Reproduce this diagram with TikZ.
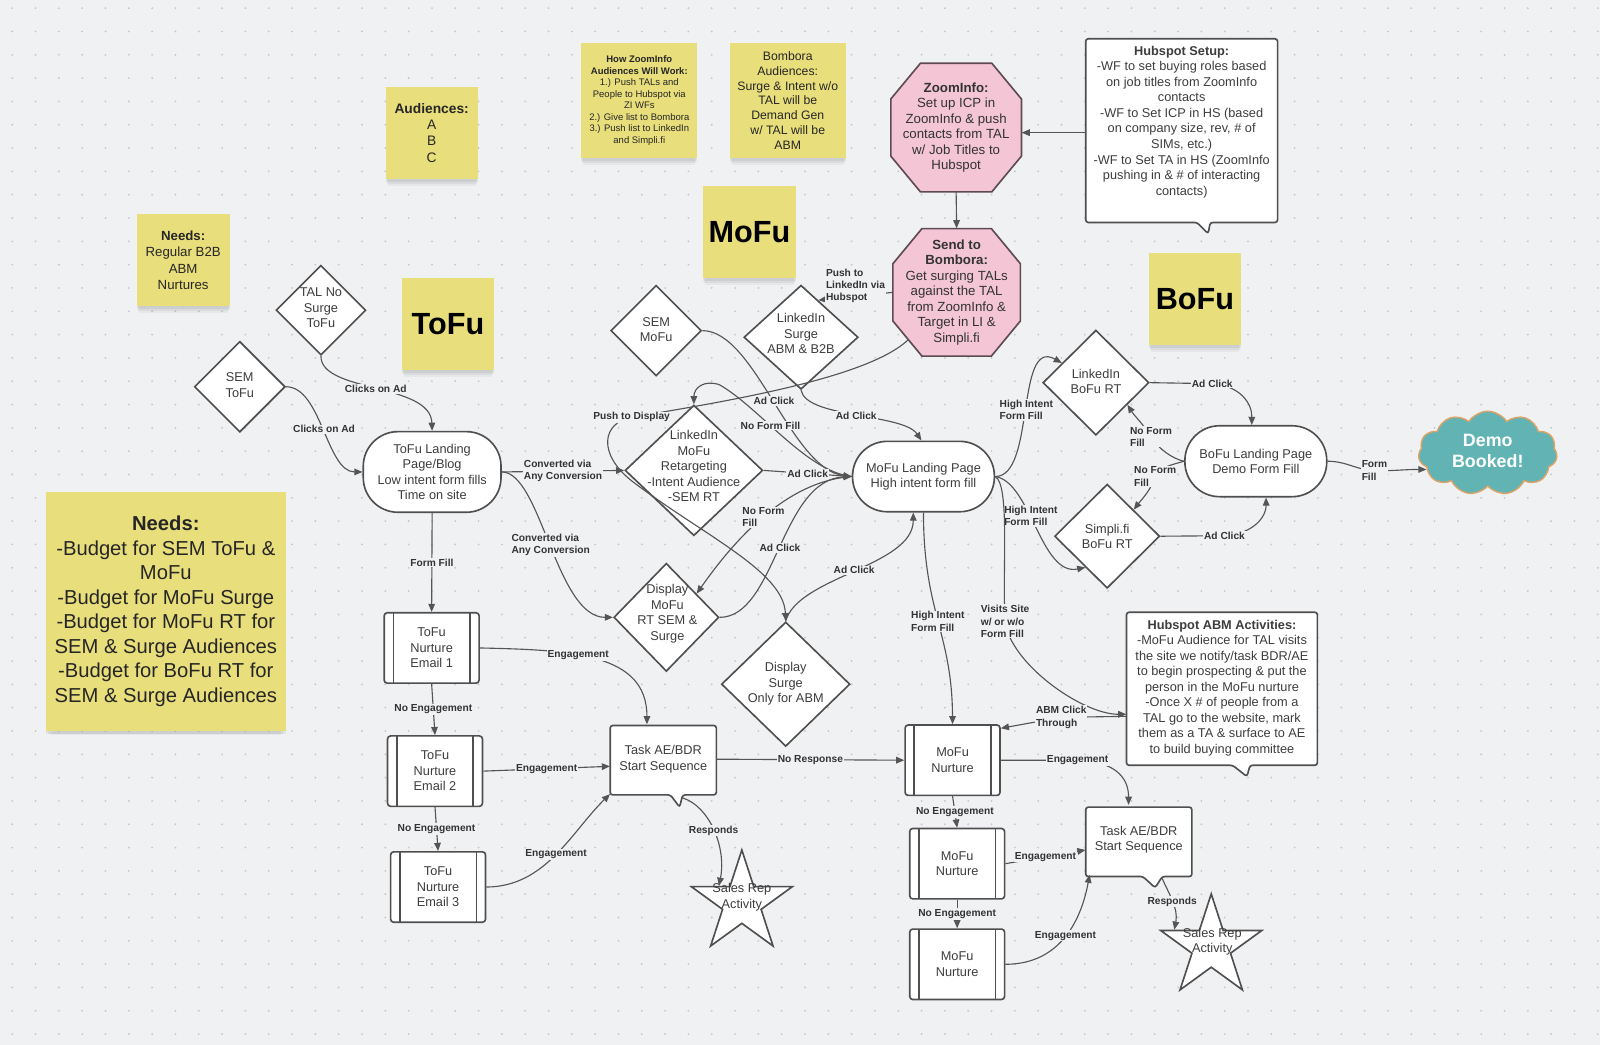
\documentclass[tikz,border=0pt]{standalone}
\usepackage{fontspec}
\setmainfont{Liberation Sans}
\usetikzlibrary{shapes.geometric,shapes.symbols,arrows.meta,calc,shadows}
\definecolor{bgc}{HTML}{F0F1F3}
\definecolor{dotc}{HTML}{C4C7CC}
\definecolor{stk}{HTML}{E8DE7B}
\definecolor{pinkc}{HTML}{F3C5D5}
\definecolor{pinkb}{HTML}{5E4B52}
\definecolor{bord}{HTML}{4F4F4F}
\definecolor{linec}{HTML}{555555}
\definecolor{txtc}{HTML}{3D3D3D}
\definecolor{lblc}{HTML}{333333}
\definecolor{tealc}{HTML}{62B3B3}
\definecolor{orb}{HTML}{DDA46A}
\tikzset{
 body/.style={font=\fontsize{12.5}{15.2}\selectfont, text=txtc, align=center},
 lbl/.style={font=\bfseries\fontsize{10}{12}\selectfont, text=lblc, fill=bgc, inner sep=1pt, align=center},
 conn/.style={draw=linec, line width=1.1pt, -{Triangle[length=8pt,width=6.5pt]}},
 sticky/.style={fill=stk, inner sep=0pt, text=black!85, align=center,
   general shadow={shadow yshift=-9pt, shadow scale=0.96, fill=black, opacity=0.04},
   general shadow={shadow yshift=-6pt, shadow scale=0.98, fill=black, opacity=0.05},
   general shadow={shadow yshift=-3pt, fill=black, opacity=0.06}},
 dia/.style={diamond, draw=bord, fill=white, line width=1.6pt, inner sep=0pt, aspect=1},
 stad/.style={rectangle, rounded corners=34pt, draw=bord, fill=white, line width=1.6pt, body, inner sep=2pt},
 nurt/.style={rectangle, rounded corners=3pt, draw=bord, fill=white, line width=1.6pt, body,
   minimum width=93pt, minimum height=69pt,
   path picture={\draw[draw=bord, line width=1.6pt]
     ([xshift=9pt]path picture bounding box.north west) -- ([xshift=9pt]path picture bounding box.south west)
     ([xshift=-9pt]path picture bounding box.north east) -- ([xshift=-9pt]path picture bounding box.south east);}},
 callout/.style={fill=white, draw=bord, line width=1.6pt, rounded corners=2.5pt},
 octo/.style={fill=pinkc, draw=pinkb, line width=1.6pt},
 starbox/.style={star, star points=5, star point ratio=2.618, minimum size=104pt, inner sep=0pt, draw=bord, fill=white, line width=1.6pt},
 bigsticky/.style={sticky, font=\bfseries\fontsize{30}{36}\selectfont, text=black}
}
\begin{document}
\begin{tikzpicture}[x=1pt,y=-1pt]
\fill[bgc] (0,0) rectangle (1568,1024);
\foreach \i in {0,...,68}{\foreach \j in {0,...,44}{\fill[dotc] (12+\i*22.85, 8+\j*22.85) circle (1pt);}}
\useasboundingbox (0,0) rectangle (1568,1024);

% sticky notes
\node[sticky, minimum width=90pt, minimum height=90pt, font=\fontsize{13.5}{16}\selectfont] (aud) at (423,130) {\textbf{Audiences:}\\A\\B\\C};
\node[sticky, minimum width=114pt, minimum height=113pt, font=\fontsize{9.3}{11.3}\selectfont] (hzi) at (626.5,98.5) {\textbf{How ZoomInfo}\\\textbf{Audiences Will Work:}\\1.) Push TALs and\\People to Hubspot via\\ZI WFs\\2.) Give list to Bombora\\3.) Push list to LinkedIn\\and Simpli.fi};
\node[sticky, minimum width=114pt, minimum height=113pt, font=\fontsize{12}{14.4}\selectfont] (bas) at (772,98.5) {Bombora\\Audiences:\\Surge \& Intent w/o\\TAL will be\\Demand Gen\\w/ TAL will be\\ABM};
\node[bigsticky, minimum width=91pt, minimum height=90pt] (mofus) at (734.5,227) {MoFu};
\node[sticky, minimum width=91pt, minimum height=90pt, font=\fontsize{13}{16}\selectfont] (needsa) at (179.5,255) {\textbf{Needs:}\\Regular B2B\\ABM\\Nurtures};
\node[bigsticky, minimum width=90pt, minimum height=91pt] (tofus) at (439,317.5) {ToFu};
\node[bigsticky, minimum width=90pt, minimum height=90pt] (bofus) at (1171,293) {BoFu};
\node[sticky, minimum width=235pt, minimum height=234pt, font=\fontsize{19.8}{24}\selectfont] (needsb) at (162.5,599) {\textbf{Needs:}\\-Budget for SEM ToFu \&\\MoFu\\-Budget for MoFu Surge\\-Budget for MoFu RT for\\SEM \& Surge Audiences\\-Budget for BoFu RT for\\SEM \& Surge Audiences};

% octagons
\filldraw[octo, shift={(937,125)}] (-35,-63) -- (35,-63) -- (64,-28) -- (64,28) -- (35,63) -- (-35,63) -- (-64,28) -- (-64,-28) -- cycle;
\node[body, font=\fontsize{13}{15.2}\selectfont, text=black!80, minimum width=128pt, minimum height=126pt, inner sep=0pt] (zi) at (937,125) {\textbf{ZoomInfo:}\\Set up ICP in\\ZoomInfo \& push\\contacts from TAL\\w/ Job Titles to\\Hubspot};
\filldraw[octo, shift={(937.5,286.5)}] (-34,-62.5) -- (34,-62.5) -- (62.5,-28) -- (62.5,28) -- (34,62.5) -- (-34,62.5) -- (-62.5,28) -- (-62.5,-28) -- cycle;
\node[body, font=\fontsize{13}{15.2}\selectfont, text=black!80, minimum width=125pt, minimum height=125pt, inner sep=0pt] (bo) at (937.5,286.5) {\textbf{Send to}\\\textbf{Bombora:}\\Get surging TALs\\against the TAL\\from ZoomInfo \&\\Target in LI \&\\Simpli.fi};

% callouts
\filldraw[callout] (1064,38) -- (1252,38) -- (1252,218) -- (1186,218) -- (1184,229) -- (1173,218) -- (1064,218) -- cycle;
\node[inner sep=0pt, minimum width=188pt, minimum height=180pt] (hset) at (1158,128) {};
\node[body] (hsett) at (1158,119.5) {\textbf{Hubspot Setup:}\\-WF to set buying roles based\\on job titles from ZoomInfo\\contacts\\-WF to Set ICP in HS (based\\on company size, rev, \# of\\SIMs, etc.)\\-WF to Set TA in HS (ZoomInfo\\pushing in \& \# of interacting\\contacts)};
\filldraw[callout] (1104,600) -- (1291,600) -- (1291,750) -- (1225,750) -- (1222,761) -- (1208,750) -- (1104,750) -- cycle;
\node[inner sep=0pt, minimum width=187pt, minimum height=150pt] (habm) at (1197.5,675) {};
\node[body] (habmt) at (1197.5,674) {\textbf{Hubspot ABM Activities:}\\-MoFu Audience for TAL visits\\the site we notify/task BDR/AE\\to begin prospecting \& put the\\person in the MoFu nurture\\-Once X \# of people from a\\TAL go to the website, mark\\them as a TA \& surface to AE\\to build buying committee};
\filldraw[callout] (598,711) -- (702,711) -- (702,779) -- (669,779) -- (666,791) -- (657,779) -- (598,779) -- cycle;
\node[body, minimum width=104pt, minimum height=68pt, inner sep=0pt] (task1) at (650,744) {Task AE/BDR\\Start Sequence};
\filldraw[callout] (1064,791) -- (1168,791) -- (1168,859) -- (1139,859) -- (1132,870) -- (1120,859) -- (1064,859) -- cycle;
\node[body, minimum width=104pt, minimum height=68pt, inner sep=0pt] (task2) at (1116,823) {Task AE/BDR\\Start Sequence};

% diamonds
\node[dia, minimum width=88pt, minimum height=88pt] (tal) at (314.5,304) {};
\node[body] (talt) at (314.5,302) {TAL No\\Surge\\ToFu};
\node[dia, minimum width=89pt, minimum height=89pt] (semt) at (235,379) {};
\node[body] (semtt) at (235,377.5) {SEM\\ToFu};
\node[dia, minimum width=89pt, minimum height=89pt] (semm) at (643,324) {};
\node[body] (semmt) at (643,323) {SEM\\MoFu};
\node[dia, minimum width=112pt, minimum height=102pt] (lsurge) at (785,330.5) {};
\node[body] (lsurget) at (785,327) {LinkedIn\\Surge\\ABM \& B2B};
\node[dia, minimum width=135pt, minimum height=128pt] (lmrt) at (680,461) {};
\node[body] (lmrtt) at (680,457) {LinkedIn\\MoFu\\Retargeting\\-Intent Audience\\-SEM RT};
\node[dia, minimum width=103pt, minimum height=106pt] (dmofu) at (653,605) {};
\node[body] (dmofut) at (654,601.5) {Display\\MoFu\\RT SEM \&\\Surge};
\node[dia, minimum width=126pt, minimum height=122pt] (dsurge) at (770,670.5) {};
\node[body] (dsurget) at (770,670.5) {Display\\Surge\\Only for ABM};
\node[dia, minimum width=104pt, minimum height=103pt] (lbofu) at (1074,375) {};
\node[body] (lbofut) at (1074,374) {LinkedIn\\BoFu RT};
\node[dia, minimum width=103pt, minimum height=102pt] (sbofu) at (1085,525.5) {};
\node[body] (sbofut) at (1085,525.5) {Simpli.fi\\BoFu RT};

% landing pages
\node[stad, minimum width=135pt, minimum height=79pt] (tlp) at (423.5,462.5) {ToFu Landing\\Page/Blog\\Low intent form fills\\Time on site};
\node[stad, minimum width=139pt, minimum height=69pt] (mlp) at (905,467) {MoFu Landing Page\\High intent form fill};
\node[stad, minimum width=139pt, minimum height=69.5pt] (blp) at (1230.7,452) {BoFu Landing Page\\Demo Form Fill};

% nurtures
\node[nurt] (e1) at (423,635) {ToFu\\Nurture\\Email 1};
\node[nurt] (e2) at (426.3,755.7) {ToFu\\Nurture\\Email 2};
\node[nurt] (e3) at (429.3,869.3) {ToFu\\Nurture\\Email 3};
\node[nurt] (m1) at (933.5,745) {MoFu\\Nurture};
\node[nurt] (m2) at (938,846.4) {MoFu\\Nurture};
\node[nurt] (m3) at (938,945) {MoFu\\Nurture};

% stars
\node[starbox] (s1) at (727,885) {};
\node[body] (s1t) at (727,879) {Sales Rep\\Activity};
\node[starbox] (s2) at (1187,928) {};
\node[body] (s2t) at (1188,923) {Sales Rep\\Activity};

% cloud
\node[cloud, cloud puffs=11, cloud puff arc=115, aspect=1.65, draw=orb, fill=tealc, line width=1.4pt, minimum width=136pt, minimum height=82pt, inner sep=0pt] (dbk) at (1458,444) {};
\node[font=\bfseries\fontsize{17.5}{21}\selectfont, text=white, align=center] (dbkt) at (1458,442) {Demo\\Booked!};

% ---------- connectors ----------
\draw[conn] ([yshift=-2pt]hset.west) -- ([yshift=-5pt]zi.east);
\draw[conn] (zi.south) -- (bo.north);
\draw[conn] (bo.west) -- node[lbl, align=left, yshift=10pt]{Push to\\LinkedIn via\\Hubspot} (lsurge.65);

\draw[conn] (tal.south) .. controls (314,385) and (422,375) .. node[lbl]{Clicks on Ad} (tlp.north);
\draw[conn] (semt.east) .. controls (315,379) and (320,462.5) .. node[lbl]{Clicks on Ad} (tlp.west);
\draw[conn] (tlp.east) -- node[lbl, align=left]{Converted via\\Any Conversion} (lmrt.west);
\draw[conn] (tlp.east) .. controls (530,462.5) and (545,605) .. node[lbl, align=left]{Converted via\\Any Conversion} (dmofu.west);
\draw[conn] (tlp.south) -- node[lbl]{Form Fill} (e1.north);
\draw[conn] (e1.south) -- node[lbl]{No Engagement} (e2.north);
\draw[conn] (e2.south) -- node[lbl]{No Engagement} (e3.north);
\draw[conn] (e1.east) .. controls (560,637) and (634,640) .. node[lbl, pos=0.4]{Engagement} ([xshift=-16pt]task1.north);
\draw[conn] (e2.east) -- node[lbl]{Engagement} ([yshift=-7pt]task1.west);
\draw[conn] (e3.east) .. controls (535,869) and (560,815) .. node[lbl]{Engagement} (task1.south west);
\draw[conn] (task1.east) -- node[lbl]{No Response} (m1.west);
\coordinate (t1tail) at (669,782);
\draw[conn] (t1tail) .. controls (695,790) and (712,830) .. node[lbl]{Responds} (s1.143);

\draw[conn] (semm.east) .. controls (740,324) and (775,460) .. node[lbl]{Ad Click} (mlp.west);
\draw[conn] (mlp.west) .. controls (790,462) and (745,400) .. node[lbl, pos=0.6]{No Form Fill} (705,377) .. controls (690,372) and (680,380) .. (lmrt.north);
\draw[conn] ($(bo.center)+(-47,46)$) .. controls (850,372) and (700,395) .. (619,409) node[lbl] (pd) {Push to Display} .. controls (590,414) and (585,445) .. (620,472) .. controls (690,525) and (768,560) .. (dsurge.north);
\draw[conn] (lsurge.south) .. controls (790,410) and (885,405) .. node[lbl]{Ad Click} ([xshift=-2pt]mlp.north);
\draw[conn] (lmrt.east) -- node[lbl]{Ad Click} (mlp.west);
\draw[conn] (mlp.west) .. controls (790,470) and (740,500) .. node[lbl, pos=0.6, align=left]{No Form\\Fill} (dmofu.38);
\draw[conn] (dmofu.east) .. controls (760,605) and (765,470) .. node[lbl]{Ad Click} (mlp.west);
\draw[conn] (dsurge.north) .. controls (782,565) and (895,555) .. node[lbl]{Ad Click} ([xshift=-10pt]mlp.south);
\draw[conn] (mlp.south) .. controls (905,600) and (933,620) .. node[lbl, align=left]{High Intent\\Form Fill} (m1.north);

\draw[conn] (mlp.east) .. controls (1015,467) and (995,330) .. node[lbl, align=left]{High Intent\\Form Fill} (lbofu.150);
\draw[conn] (mlp.east) .. controls (1010,472) and (1020,565) .. node[lbl, align=left, pos=0.42]{High Intent\\Form Fill} (sbofu.-125);
\draw[conn] (mlp.east) .. controls (990,475) and (982,560) .. (985,609) node[lbl, align=left] (vs) {Visits Site\\w/ or w/o\\Form Fill} .. controls (990,650) and (1060,700) .. ([yshift=-25pt]habm.west);
\draw[conn] ([yshift=-27pt]habm.west) -- (1040,703) node[lbl, align=left] (abmct) {ABM Click\\Through} -- ([yshift=-4pt]m1.north east);

\draw[conn] (m1.east) -- (1056,745) node[lbl] (eng4) {Engagement} .. controls (1090,746) and (1106,760) .. ([xshift=-10pt]task2.north);
\draw[conn] (m1.south) -- node[lbl]{No Engagement} (m2.north);
\draw[conn] (m2.south) -- node[lbl]{No Engagement} (m3.north);
\draw[conn] (m2.east) -- node[lbl]{Engagement} ([yshift=-10pt]task2.west);
\draw[conn] (m3.east) .. controls (1040,945) and (1060,900) .. node[lbl]{Engagement} ([xshift=4pt]task2.south west);
\coordinate (t2tail) at (1139,861);
\draw[conn] (t2tail) .. controls (1145,875) and (1155,890) .. node[lbl]{Responds} (s2.155);

\draw[conn] (lbofu.east) -- (1188,376) node[lbl] (ac1) {Ad Click} .. controls (1215,378) and (1227,395) .. ([xshift=-4pt]blp.north);
\draw[conn] (blp.west) .. controls (1150,450) and (1135,440) .. (1128,428) node[lbl, align=left] (nff1) {No Form\\Fill} .. controls (1120,415) and (1112,408) .. (lbofu.-35);
\draw[conn] (blp.west) .. controls (1150,455) and (1135,458) .. (1132,467) node[lbl, align=left] (nff2) {No Form\\Fill} .. controls (1128,480) and (1120,488) .. (sbofu.45);
\draw[conn] (sbofu.east) -- (1200,525) node[lbl] (ac2) {Ad Click} .. controls (1230,523) and (1241,505) .. ([xshift=10pt]blp.south);
\draw[conn] (blp.east) .. controls (1320,452) and (1330,461) .. (1347,461) node[lbl, align=left] (ff) {Form\\Fill} .. controls (1362,462) and (1375,460) .. (dbk.195);
\end{tikzpicture}
\end{document}
